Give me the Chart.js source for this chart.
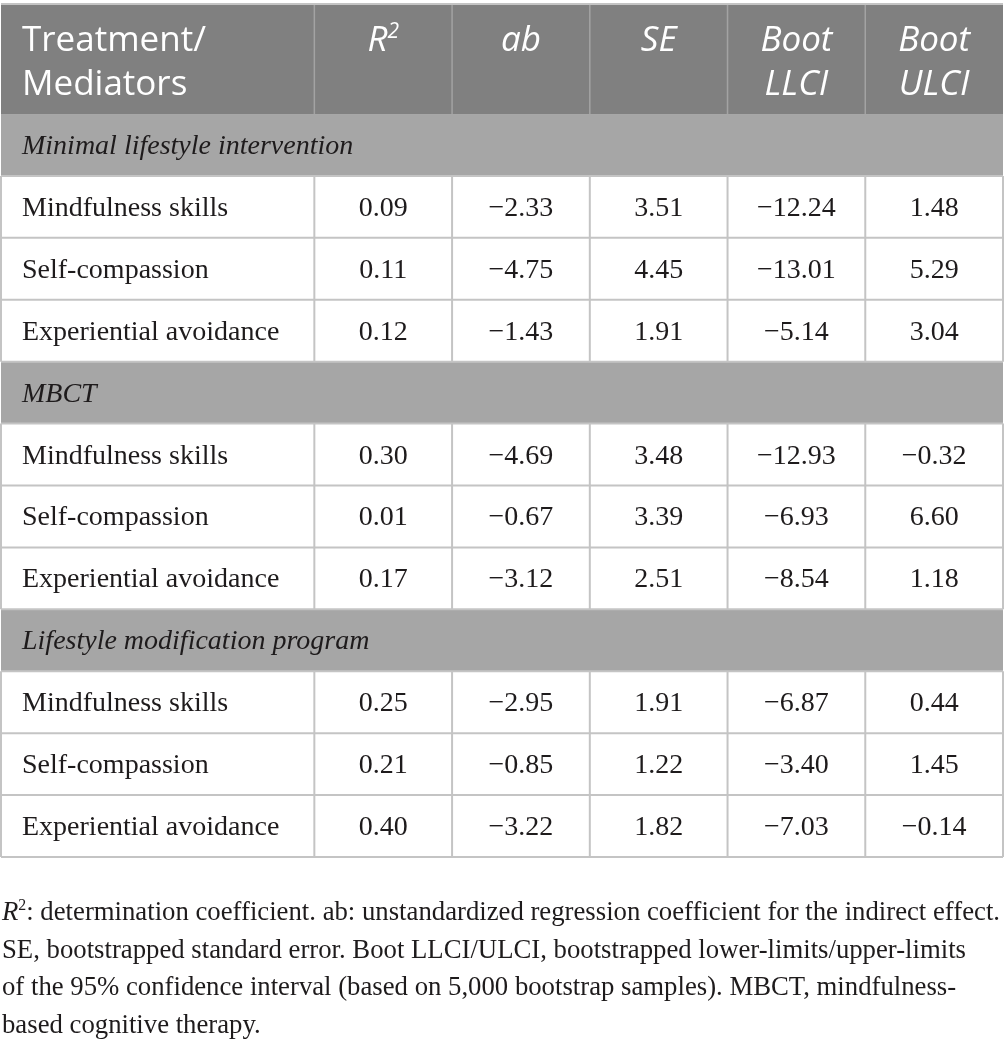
<!DOCTYPE html>
<html>
<head>
<meta charset="utf-8">
<script src="https://cdn.jsdelivr.net/npm/chart.js@4.4.1/dist/chart.umd.min.js"></script>
<style>
  html, body { margin: 0; padding: 0; background: #ffffff; }
  #wrap { width: 1005px; height: 1047px; position: relative; }
  canvas { display: block; }
</style>
</head>
<body>
<div id="wrap"><canvas id="tbl" width="1005" height="1047"></canvas></div>
<script>
// ---------------- DATA ----------------
const columnHeaders = ["Treatment/\nMediators", "R2", "ab", "SE", "Boot\nLLCI", "Boot\nULCI"];
const groups = ["Minimal lifestyle intervention", "MBCT", "Lifestyle modification program"];
const mediators = ["Mindfulness skills", "Self-compassion", "Experiential avoidance"];
// values per group (rows) per mediator (columns)
const r2   = [[0.09, 0.11, 0.12], [0.30, 0.01, 0.17], [0.25, 0.21, 0.40]];
const ab   = [[-2.33, -4.75, -1.43], [-4.69, -0.67, -3.12], [-2.95, -0.85, -3.22]];
const se   = [[3.51, 4.45, 1.91], [3.48, 3.39, 2.51], [1.91, 1.22, 1.82]];
const llci = [[-12.24, -13.01, -5.14], [-12.93, -6.93, -8.54], [-6.87, -3.40, -7.03]];
const ulci = [[1.48, 5.29, 3.04], [-0.32, 6.60, 1.18], [0.44, 1.45, -0.14]];
const footnoteLines = [
  ": determination coefficient. ab: unstandardized regression coefficient for the indirect effect.",
  "SE, bootstrapped standard error. Boot LLCI/ULCI, bootstrapped lower-limits/upper-limits",
  "of the 95% confidence interval (based on 5,000 bootstrap samples). MBCT, mindfulness-",
  "based cognitive therapy."
];

// ---------------- LAYOUT / STYLE ----------------
const HEADER_SPAN = 1.777;   // header height, in row units
const LABEL_SPAN = 2.275;    // first column width, in column units
const HEADER_BG = "#808080";
const BAND_BG = "#a6a6a6";
const GRID = "#c4c4c4";
const HEADER_DIV = "#a3a3a3";
const INK = "#1e1b1c";
const SANS = "'Open Sans', sans-serif";
const SERIF = "'Liberation Serif', 'Times New Roman', serif";

const statColumns = [r2, ab, se, llci, ulci];
const nStat = statColumns.length;
const rowsPerGroup = mediators.length + 1;
const yMax = HEADER_SPAN + groups.length * rowsPerGroup;
const xMax = LABEL_SPAN + nStat;

function fmt(v) {
  const s = Math.abs(v).toFixed(2);
  return (v < 0 ? "\u2212" : "") + s;
}

// ---------------- DATASETS (cell anchors) ----------------
const datasets = [];
datasets.push({
  label: "rowLabels", kind: "rowLabel",
  data: groups.flatMap((g, gi) => mediators.map((m, mi) => ({
    x: 0, y: HEADER_SPAN + gi * rowsPerGroup + 1 + mi + 0.5, text: m
  }))),
  pointRadius: 0
});
datasets.push({
  label: "groupLabels", kind: "groupLabel",
  data: groups.map((g, gi) => ({ x: 0, y: HEADER_SPAN + gi * rowsPerGroup + 0.5, text: g })),
  pointRadius: 0
});
statColumns.forEach((col, ci) => {
  datasets.push({
    label: columnHeaders[ci + 1], kind: "value",
    data: col.flatMap((vals, gi) => vals.map((v, mi) => ({
      x: LABEL_SPAN + ci + 0.5, y: HEADER_SPAN + gi * rowsPerGroup + 1 + mi + 0.5, v: v, text: fmt(v)
    }))),
    pointRadius: 0
  });
});

// ---------------- RICH TEXT HELPER ----------------
function richWidth(ctx, segs) {
  let w = 0;
  segs.forEach(s => { ctx.font = s.font; w += ctx.measureText(s.t).width; });
  return w;
}
function drawRich(ctx, segs, x, y, align) {
  let w = richWidth(ctx, segs);
  let cx = align === "center" ? x - w / 2 : x;
  ctx.textAlign = "left";
  ctx.textBaseline = "alphabetic";
  segs.forEach(s => {
    ctx.font = s.font;
    ctx.fillText(s.t, cx, y + (s.dy || 0));
    cx += ctx.measureText(s.t).width;
  });
}

// ---------------- TABLE PLUGIN ----------------
const tablePlugin = {
  id: "tablePlugin",
  beforeDatasetsDraw(chart) {
    const { ctx, scales: { x, y } } = chart;
    const X = v => x.getPixelForValue(v), Y = v => y.getPixelForValue(v);
    const xL = X(0), xR = X(xMax);
    ctx.save();
    ctx.fillStyle = HEADER_BG;
    ctx.fillRect(xL, Y(0), xR - xL, Y(HEADER_SPAN) - Y(0));
    groups.forEach((g, gi) => {
      const y0 = HEADER_SPAN + gi * rowsPerGroup;
      ctx.fillStyle = BAND_BG;
      ctx.fillRect(xL, Y(y0), xR - xL, Y(y0 + 1) - Y(y0));
    });
    const edges = [0, LABEL_SPAN];
    for (let i = 1; i <= nStat; i++) edges.push(LABEL_SPAN + i);
    ctx.strokeStyle = HEADER_DIV; ctx.lineWidth = 1.5;
    edges.slice(1, -1).forEach(e => {
      ctx.beginPath(); ctx.moveTo(X(e), Y(0)); ctx.lineTo(X(e), Y(HEADER_SPAN)); ctx.stroke();
    });
    ctx.strokeStyle = GRID; ctx.lineWidth = 2;
    groups.forEach((g, gi) => {
      const y0 = HEADER_SPAN + gi * rowsPerGroup + 1;
      const y1 = HEADER_SPAN + (gi + 1) * rowsPerGroup;
      edges.forEach(e => {
        ctx.beginPath(); ctx.moveTo(X(e), Y(y0)); ctx.lineTo(X(e), Y(y1)); ctx.stroke();
      });
    });
    const hLines = [0];
    for (let r = HEADER_SPAN + 1; r <= yMax + 1e-9; r += 1) hLines.push(r);
    hLines.forEach(r => {
      ctx.beginPath(); ctx.moveTo(xL, Y(r)); ctx.lineTo(xR, Y(r)); ctx.stroke();
    });
    ctx.restore();
  },
  afterDatasetsDraw(chart) {
    const { ctx, scales: { x, y } } = chart;
    const X = v => x.getPixelForValue(v), Y = v => y.getPixelForValue(v);
    const pad = 21;
    ctx.save();
    // header text
    ctx.fillStyle = "#ffffff";
    const hb1 = Y(0) + 47, hb2 = Y(0) + 91;
    columnHeaders.forEach((h, ci) => {
      const lines = h.split("\n");
      if (ci === 0) {
        lines.forEach((ln, li) => drawRich(ctx, [{ t: ln, font: "35px " + SANS }], X(0) + pad, li ? hb2 : hb1, "left"));
      } else {
        const cxp = X(LABEL_SPAN + ci - 0.5);
        lines.forEach((ln, li) => {
          let segs;
          if (ln === "R2") segs = [{ t: "R", font: "italic 35px " + SANS }, { t: "2", font: "italic 21px " + SANS, dy: -13 }];
          else segs = [{ t: ln, font: "italic 35px " + SANS }];
          drawRich(ctx, segs, cxp, li ? hb2 : hb1, "center");
        });
      }
    });
    // dataset-anchored cell text
    ctx.fillStyle = INK;
    chart.data.datasets.forEach((ds, di) => {
      const meta = chart.getDatasetMeta(di);
      meta.data.forEach((el, i) => {
        const d = ds.data[i];
        if (ds.kind === "value") {
          drawRich(ctx, [{ t: d.text, font: "28px " + SERIF }], el.x, el.y + 9, "center");
        } else if (ds.kind === "rowLabel") {
          drawRich(ctx, [{ t: d.text, font: "28px " + SERIF }], el.x + pad, el.y + 9, "left");
        } else {
          drawRich(ctx, [{ t: d.text, font: "italic 28px " + SERIF }], el.x + pad, el.y + 9, "left");
        }
      });
    });
    // footnote
    const fs = 27;
    const fnFont = fs + "px " + SERIF;
    const first = [{ t: "R", font: "italic " + fs + "px " + SERIF }, { t: "2", font: "16px " + SERIF, dy: -10 }, { t: footnoteLines[0], font: fnFont }];
    const sx = 998 / richWidth(ctx, first);
    const base = chart.chartArea.bottom + 63;
    const lh = 37.5;
    const rows = [first].concat(footnoteLines.slice(1).map(t => [{ t: t, font: fnFont }]));
    rows.forEach((segs, i) => {
      ctx.save();
      ctx.translate(2, base + i * lh);
      ctx.scale(sx, 1);
      drawRich(ctx, segs, 0, 0, "left");
      ctx.restore();
    });
    ctx.restore();
  }
};

new Chart(document.getElementById("tbl"), {
  type: "scatter",
  data: { datasets: datasets },
  options: {
    responsive: false,
    animation: false,
    events: [],
    layout: { padding: { top: 4, left: 1, right: 2, bottom: 190 } },
    scales: {
      x: { type: "linear", display: false, min: 0, max: xMax },
      y: { type: "linear", display: false, reverse: true, min: 0, max: yMax }
    },
    plugins: { legend: { display: false }, tooltip: { enabled: false } }
  },
  plugins: [tablePlugin]
});
</script>
</body>
</html>
